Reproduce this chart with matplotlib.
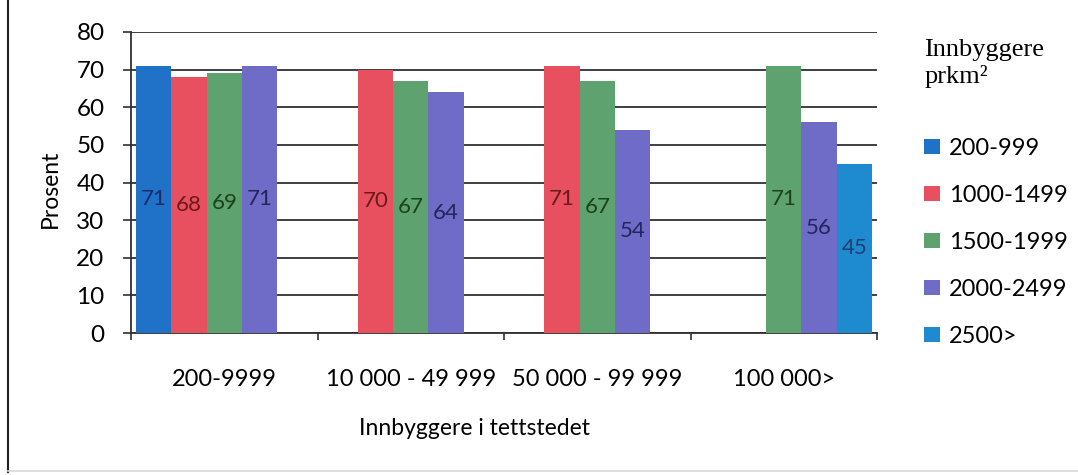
import numpy as np
import matplotlib
matplotlib.use("Agg")
import matplotlib.pyplot as plt
from matplotlib.lines import Line2D
from matplotlib.patches import Patch

categories = ['200-9999', '10 000 - 49 999', '50 000 - 99 999', '100 000>']
series_names = ['200-999', '1000-1499', '1500-1999', '2000-2499', '2500>']
v_200_999 = [71, np.nan, np.nan, np.nan]
v_1000_1499 = [68, 70, 71, np.nan]
v_1500_1999 = [69, 67, 67, 71]
v_2000_2499 = [71, 64, 54, 56]
v_2500 = [np.nan, np.nan, np.nan, 45]
series_values = [v_200_999, v_1000_1499, v_1500_1999, v_2000_2499, v_2500]

bar_colors = ['#1F72C8', '#E9505F', '#5DA26F', '#6E6CC6', '#1E8BD0']
label_colors = ['#1a2a6a', '#6a1a1a', '#1d401d', '#24245e', '#1f3f70']
y_ticks = [0, 10, 20, 30, 40, 50, 60, 70, 80]

plt.rcParams['font.family'] = ['Lato', 'DejaVu Sans']

fig = plt.figure(figsize=(10.78, 4.75), dpi=100)
ax = fig.add_axes([131/1078, 1-333/475, (877-131)/1078, (333-32)/475])

x = np.arange(len(categories))
w = 0.19
for j, (name, vals) in enumerate(zip(series_names, series_values)):
    vals = np.array(vals, dtype=float)
    pos = x + (j - 2) * w
    ax.bar(pos, vals, width=w, color=bar_colors[j], label=name, zorder=3, linewidth=0)
    for p, v in zip(pos, vals):
        if not np.isnan(v):
            ax.text(p, v / 2, f"{int(v)}", ha='center', va='center', fontsize=16,
                    color=label_colors[j], zorder=4)

ax.set_xlim(-0.5, len(categories) - 0.5)
ax.set_ylim(0, 80)
ax.set_yticks(y_ticks)
ax.yaxis.grid(True, color='#303030', linewidth=1.3, zorder=0)
ax.set_axisbelow(True)
ax.tick_params(axis='y', labelsize=17.5, length=6, width=1.2, pad=13, color='#303030')
ax.set_xticks(x)
ax.set_xticklabels(categories)
ax.tick_params(axis='x', which='major', length=0, labelsize=17, pad=26)
ax.set_xticks(np.arange(-0.5, len(categories)), minor=True)
ax.tick_params(axis='x', which='minor', length=5, width=1.2, color='#303030', direction='out')
for s in ['top', 'right']:
    ax.spines[s].set_visible(False)
ax.spines['left'].set_color('#303030')
ax.spines['left'].set_linewidth(1.3)
ax.spines['bottom'].set_color('#303030')
ax.spines['bottom'].set_linewidth(1.3)

ax.text(-0.108, 0.48, 'Prosent', transform=ax.transAxes, rotation=90,
        ha='center', va='center', fontsize=16.5)
ax.text(0.461, -0.316, 'Innbyggere i tettstedet', transform=ax.transAxes,
        ha='center', va='center', fontsize=16.5)

handles = [Patch(facecolor=c, edgecolor='none') for c in bar_colors]
leg = fig.legend(handles, series_names, loc='upper left',
                 bbox_to_anchor=(903/1078, 1-18/475), frameon=False,
                 fontsize=17, handlelength=0.65, handleheight=0.65,
                 handletextpad=0.4, labelspacing=1.1,
                 title='Innbyggere\nprkm\u00b2', alignment='left')
leg.get_title().set_fontfamily(['Liberation Serif', 'DejaVu Serif'])
leg.get_title().set_fontsize(19)
leg.get_title().set_linespacing(1.2)
leg._legend_box.sep = 36

fig.add_artist(Line2D([8/1078, 8/1078], [0.006, 1.0], transform=fig.transFigure,
                      color='#202020', linewidth=1.5))
fig.add_artist(Line2D([8/1078, 1.0], [0.008, 0.008], transform=fig.transFigure,
                      color='#d8d8d8', linewidth=1.2))

fig.savefig('out.png', dpi=100)
